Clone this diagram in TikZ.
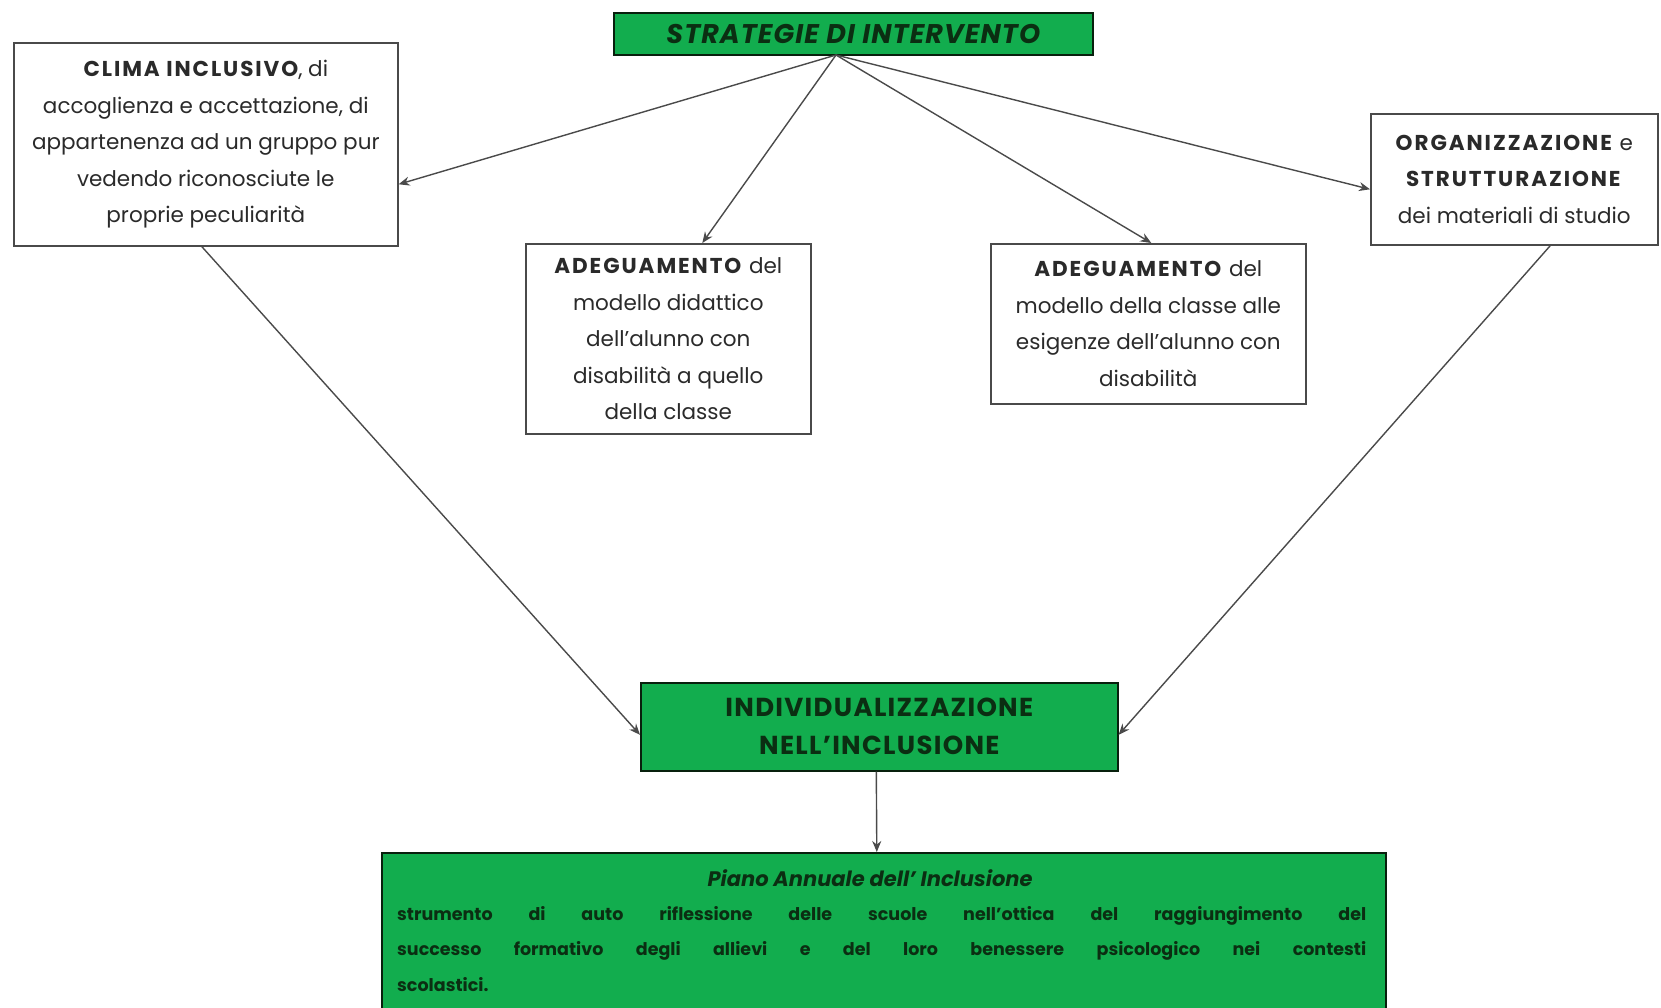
\documentclass[tikz,border=0pt]{standalone}
\usepackage{fontspec}
\setmainfont{Poppins}
\usetikzlibrary{arrows.meta}
\definecolor{boxgreen}{HTML}{12AD4E}
\definecolor{ink}{HTML}{2A2A2A}
\definecolor{greenink}{HTML}{0B2E12}
\definecolor{edge}{HTML}{4A4A4A}
% justified line of fixed width
\newcommand{\justline}[1]{\hbox to \linewidth{\spaceskip=0.25em plus 1fil\relax #1}}
% bold, slightly spaced capitals
\newcommand{\capsb}[1]{\textbf{\addfontfeatures{LetterSpace=9}#1}}
\begin{document}
\begin{tikzpicture}[x=1pt,y=-1pt,
  txt/.style={font=\fontsize{21.5}{36.6}\selectfont, text=ink, align=center},
  whitebox/.style={draw=edge, line width=1.6pt, fill=white, inner sep=0pt, anchor=north west, txt},
  greenbox/.style={draw=greenink!70!black, line width=1.6pt, fill=boxgreen, inner sep=0pt, anchor=north west, text=greenink},
  link/.style={draw=ink!85, line width=1.4pt, -{Stealth[length=11pt,width=9pt]}}]
\useasboundingbox (0,0) rectangle (1661,1007);
\clip (0,0) rectangle (1661,1007);

% header
\node[greenbox, minimum width=479pt, minimum height=42pt,
      font=\fontsize{27}{30}\selectfont\bfseries\itshape] (top) at (613,12)
  {\addfontfeatures{LetterSpace=4}STRATEGIE DI INTERVENTO};

% strategy boxes
\node[whitebox, minimum width=384pt, minimum height=203pt] (clima) at (13,42)
  {\capsb{CLIMA INCLUSIVO}, di\\accoglienza e accettazione, di\\appartenenza ad un gruppo pur\\vedendo riconosciute le\\proprie peculiarità};
\node[whitebox, minimum width=285pt, minimum height=190pt] (adegA) at (525,243)
  {\capsb{ADEGUAMENTO} del\\modello didattico\\dell’alunno con\\disabilità a quello\\della classe};
\node[whitebox, minimum width=315pt, minimum height=160pt] (adegB) at (990,243)
  {\capsb{ADEGUAMENTO} del\\modello della classe alle\\esigenze dell’alunno con\\disabilità};
\node[whitebox, minimum width=287pt, minimum height=131pt] (org) at (1370,113)
  {\capsb{ORGANIZZAZIONE} e\\\capsb{STRUTTURAZIONE}\\dei materiali di studio};

% result boxes
\node[greenbox, minimum width=477pt, minimum height=88pt, align=center,
      font=\fontsize{26}{38}\selectfont\bfseries] (indiv) at (640,682)
  {\addfontfeatures{LetterSpace=5}INDIVIDUALIZZAZIONE\\\addfontfeatures{LetterSpace=5}NELL’INCLUSIONE};
\node[greenbox, minimum width=1004pt, minimum height=170pt, inner sep=0pt] (piano) at (381,852) {};
\node[text=greenink, anchor=north, font=\fontsize{21}{36}\selectfont\itshape\bfseries]
  (pianotitle) at (870,866) {Piano Annuale dell’ Inclusione};
\node[text=greenink, anchor=north west, inner sep=0pt, text width=969pt,
      font=\fontsize{17.5}{35.5}\selectfont\bfseries] (pianotext) at (397,906)
  {\justline{strumento di auto riflessione delle scuole nell’ottica del raggiungimento del}
   \justline{successo formativo degli allievi e del loro benessere psicologico nei contesti}
   \hbox{scolastici.}};

% connectors
\coordinate (hub) at (836,55);
\draw[link] (hub) -- ([yshift=-40pt]clima.east);
\draw[link] (hub) -- ([xshift=34pt]adegA.north);
\draw[link] (hub) -- ([xshift=3pt]adegB.north);
\draw[link] (hub) -- ([yshift=-10pt]org.west);
\draw[link] ([xshift=-4pt]clima.south) -- ([yshift=-8pt]indiv.west);
\draw[link] ([xshift=36pt]org.south) -- ([yshift=-8pt]indiv.east);
\draw[link] ([xshift=-3pt]indiv.south) -- ([xshift=-7pt]piano.north);
\end{tikzpicture}
\end{document}
